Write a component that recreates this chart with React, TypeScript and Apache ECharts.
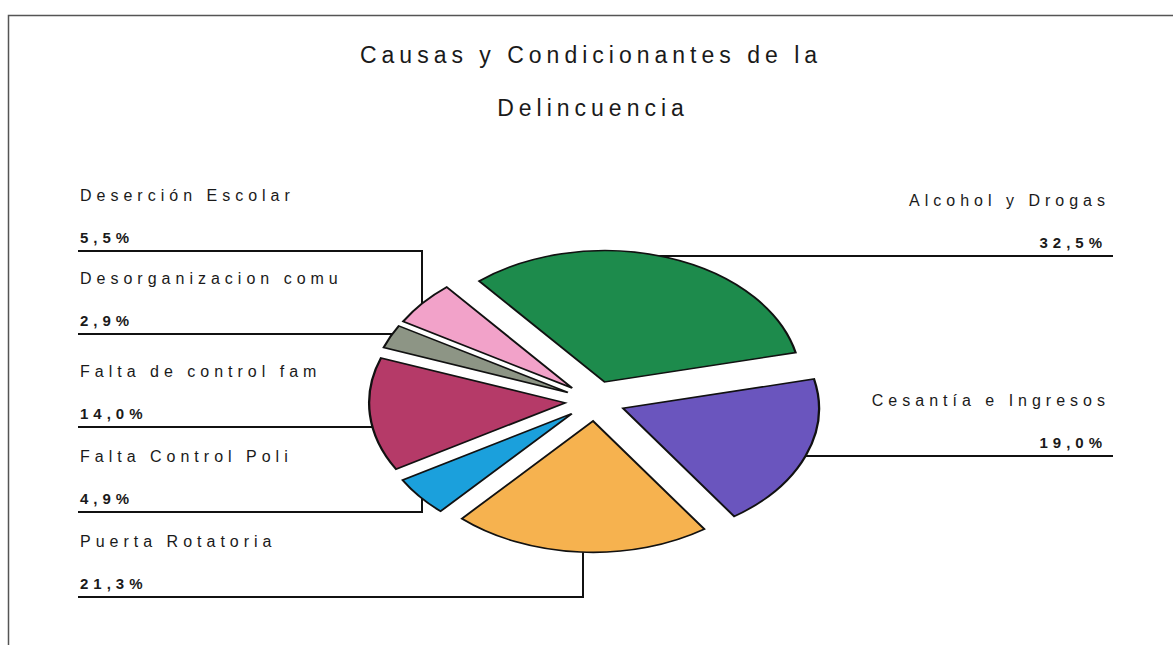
import React, { useEffect, useRef } from 'react';
import * as echarts from 'echarts';

const TITLE_LINES = ['Causas y Condicionantes de la', 'Delincuencia'];
const CATEGORIES = [
  'Alcohol y Drogas',
  'Cesantía e Ingresos',
  'Puerta Rotatoria',
  'Falta Control Poli',
  'Falta de control fam',
  'Desorganizacion comu',
  'Deserción Escolar',
];
const VALUES = [32.5, 19.0, 21.3, 4.9, 14.0, 2.9, 5.5];
const COLORS = ['#1d8b4c', '#6a55be', '#f6b24f', '#1ba0dc', '#b53a68', '#8d9585', '#f2a2c9'];

// layout of the label blocks (not data)
const LABEL_LAYOUT = [
  { side: 'right', lineY: 256 },
  { side: 'right', lineY: 456 },
  { side: 'left', lineY: 597, elbowX: 583, edge: 'bottom' },
  { side: 'left', lineY: 512, elbowX: 422, edge: 'bottom' },
  { side: 'left', lineY: 427 },
  { side: 'left', lineY: 334 },
  { side: 'left', lineY: 251, elbowX: 422, edge: 'top' },
];

const CX = 595;
const CY = 401;
const R = 196;
const K = 0.67;
const EXPLODE = 30;
const START = (-39.8 * Math.PI) / 180; // clockwise from 12 o'clock
const FONT = '"Liberation Sans", Arial, sans-serif';
const LEFT_X = 80;
const LINE_LEFT = 78;
const RIGHT_X = 1110;
const LINE_RIGHT = 1113;

const fmt = (v: number) => v.toFixed(1).replace('.', ',') + '%';

export default function App() {
  const ref = useRef<HTMLDivElement>(null);
  useEffect(() => {
    document.body.style.margin = '0';
    if (!ref.current) return;
    const chart = echarts.init(ref.current, null, { renderer: 'svg' });
    const total = VALUES.reduce((a, b) => a + b, 0);
    const option: any = {
      animation: false,
      backgroundColor: '#ffffff',
      graphic: [
        {
          type: 'rect',
          shape: { x: 8.5, y: 15.5, width: 1300, height: 800 },
          style: { fill: 'none', stroke: '#555', lineWidth: 1.5 },
          silent: true,
        },
        {
          type: 'text',
          x: 591,
          y: 55,
          style: { text: TITLE_LINES[0], align: 'center', verticalAlign: 'middle', font: '23px ' + FONT, fill: '#1a1a1a' },
        },
        {
          type: 'text',
          x: 593,
          y: 108,
          style: { text: TITLE_LINES[1], align: 'center', verticalAlign: 'middle', font: '23px ' + FONT, fill: '#1a1a1a' },
        },
      ],
      series: [
        {
          type: 'custom',
          coordinateSystem: 'none',
          silent: true,
          data: VALUES.map((v, i) => ({ value: v, name: CATEGORIES[i] })),
          renderItem: (params: any, api: any) => {
            const i = params.dataIndex;
            let before = 0;
            for (let j = 0; j < i; j++) before += VALUES[j];
            const v = api.value(0);
            const a0 = START + (before / total) * Math.PI * 2;
            const a1 = a0 + (v / total) * Math.PI * 2;
            const mid = (a0 + a1) / 2;
            const ox = CX + EXPLODE * Math.sin(mid);
            const oy = CY - EXPLODE * Math.cos(mid) * K;
            const lay: any = LABEL_LAYOUT[i];
            const points: number[][] = [];
            if (lay.elbowX != null) {
              const dx = (lay.elbowX - ox) / R;
              const dyv = R * K * Math.sqrt(Math.max(0, 1 - dx * dx));
              const ey = lay.edge === 'bottom' ? oy + dyv : oy - dyv;
              points.push([LINE_LEFT, lay.lineY], [lay.elbowX, lay.lineY], [lay.elbowX, ey]);
            } else {
              const dy = (lay.lineY - oy) / (R * K);
              const dx = R * Math.sqrt(Math.max(0, 1 - dy * dy));
              if (lay.side === 'right') points.push([ox + dx, lay.lineY], [LINE_RIGHT, lay.lineY]);
              else points.push([LINE_LEFT, lay.lineY], [ox - dx, lay.lineY]);
            }
            const isRight = lay.side === 'right';
            const tx = isRight ? RIGHT_X : LEFT_X;
            return {
              type: 'group',
              children: [
                {
                  type: 'polyline',
                  shape: { points },
                  style: { stroke: '#111', lineWidth: 2, fill: null },
                },
                {
                  type: 'sector',
                  x: ox,
                  y: oy,
                  scaleY: K,
                  shape: {
                    cx: 0,
                    cy: 0,
                    r: R,
                    r0: 0,
                    startAngle: a0 - Math.PI / 2,
                    endAngle: a1 - Math.PI / 2,
                    clockwise: true,
                  },
                  style: { fill: COLORS[i], stroke: '#111', lineWidth: 2.3, strokeNoScale: true },
                },
                {
                  type: 'text',
                  x: tx,
                  y: lay.lineY - 56,
                  style: {
                    text: CATEGORIES[i],
                    align: isRight ? 'right' : 'left',
                    verticalAlign: 'middle',
                    font: '16px ' + FONT,
                    fill: '#1a1a1a',
                  },
                },
                {
                  type: 'text',
                  x: isRight ? tx - 3 : tx,
                  y: lay.lineY - 14,
                  style: {
                    text: fmt(v),
                    align: isRight ? 'right' : 'left',
                    verticalAlign: 'middle',
                    font: 'bold 15px ' + FONT,
                    fill: '#1a1a1a',
                  },
                },
              ],
            };
          },
        },
      ],
    };
    chart.setOption(option);
    return () => chart.dispose();
  }, []);
  return <div ref={ref} style={{ width: 1173, height: 645, letterSpacing: '5px' }} />;
}
